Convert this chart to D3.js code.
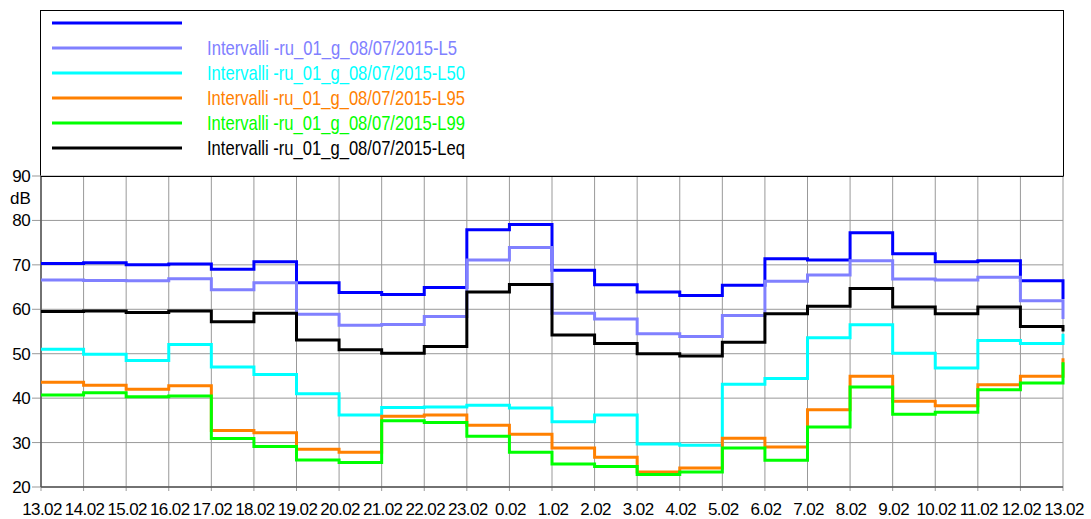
<!DOCTYPE html>
<html>
<head>
<meta charset="utf-8">
<script src="https://d3js.org/d3.v7.min.js"></script>
<style>
  body { margin: 0; background: #fff; }
  text { font-family: "Liberation Sans", Arial, sans-serif; }
</style>
</head>
<body>
<svg width="1091" height="519"></svg>
<script>
// tick labels along x (hour.minute of each interval start)
var tickLabels = ["13.02","14.02","15.02","16.02","17.02","18.02","19.02","20.02","21.02","22.02","23.02","0.02",
  "1.02","2.02","3.02","4.02","5.02","6.02","7.02","8.02","9.02","10.02","11.02","12.02","13.02"];

var seriesNames = ["", "Intervalli -ru_01_g_08/07/2015-L5", "Intervalli -ru_01_g_08/07/2015-L50",
  "Intervalli -ru_01_g_08/07/2015-L95", "Intervalli -ru_01_g_08/07/2015-L99", "Intervalli -ru_01_g_08/07/2015-Leq"];
var seriesColors = ["#0000ff", "#8080ff", "#00ffff", "#ff8000", "#00ff00", "#000000"];

// values per interval (last value = closing point at 13.02)
var lmax = [70.3,70.5,70.0,70.2,69.0,70.7,66.0,63.8,63.3,64.9,77.9,79.1,68.8,65.5,63.9,63.1,65.4,71.4,71.1,77.2,72.5,70.7,70.9,66.4,62.3];
var l5   = [66.6,66.5,66.4,66.9,64.4,66.0,58.9,56.4,56.6,58.4,71.1,73.9,59.1,57.8,54.5,53.9,58.6,66.3,67.7,70.9,66.8,66.6,67.2,61.9,57.8];
var l50  = [51.0,49.9,48.5,52.1,47.0,45.3,41.0,36.2,37.9,38.0,38.4,37.8,34.7,36.2,29.7,29.4,43.1,44.4,53.6,56.5,50.1,46.8,53.0,52.3,54.5];
var l95  = [43.6,42.9,42.0,42.8,32.7,32.2,28.5,27.8,35.9,36.2,33.9,31.9,28.8,26.7,23.4,24.3,31.0,29.0,37.4,44.9,39.3,38.3,43.0,44.9,49.0];
var l99  = [40.7,41.2,40.3,40.5,30.9,29.1,26.1,25.5,34.9,34.5,31.4,27.8,25.2,24.6,22.8,23.4,28.8,26.0,33.5,42.5,36.4,36.8,41.9,43.4,48.1];
var leq  = [59.5,59.6,59.3,59.6,57.2,59.1,53.1,50.9,50.1,51.6,63.9,65.6,54.2,52.3,50.0,49.5,52.6,59.0,60.7,64.7,60.5,59.0,60.5,56.1,55.0];
var yTicks = [20,30,40,50,60,70,80,90];

var allSeries = [lmax, l5, l50, l95, l99, leq];

var svg = d3.select("svg");
var plotLeft = 41, plotRight = 1063, plotTop = 176, plotBottom = 487;

var x = d3.scaleLinear().domain([0, tickLabels.length - 1]).range([plotLeft, plotRight]);
var y = d3.scaleLinear().domain([20, 90]).range([plotBottom, plotTop]);

// legend box
svg.append("rect")
  .attr("x", 40.5).attr("y", 10.5)
  .attr("width", plotRight - 40).attr("height", plotTop - 10)
  .attr("fill", "#fff").attr("stroke", "#000").attr("stroke-width", 1);

var lg = svg.append("g");
seriesNames.forEach(function(name, i){
  var ly = 23 + i * 25;
  lg.append("line")
    .attr("x1", 52).attr("x2", 182)
    .attr("y1", ly).attr("y2", ly)
    .attr("stroke", seriesColors[i]).attr("stroke-width", 3);
  if (name) {
    lg.append("text")
      .attr("x", 207).attr("y", ly + 7)
      .attr("font-size", 21)
      .attr("textLength", i == 5 ? 258 : (i == 1 ? 250 : 258))
      .attr("lengthAdjust", "spacingAndGlyphs")
      .attr("fill", seriesColors[i])
      .text(name);
  }
});

// grid
var grid = svg.append("g");
tickLabels.forEach(function(t, i){
  grid.append("line")
    .attr("x1", x(i)).attr("x2", x(i))
    .attr("y1", plotTop).attr("y2", plotBottom + 4)
    .attr("stroke", "#999").attr("stroke-width", 1);
});
yTicks.forEach(function(v){
  grid.append("line")
    .attr("x1", plotLeft - 9).attr("x2", plotRight)
    .attr("y1", y(v)).attr("y2", y(v))
    .attr("stroke", "#999").attr("stroke-width", 1);
});

// axes lines
svg.append("line").attr("x1", plotLeft).attr("x2", plotLeft).attr("y1", plotTop).attr("y2", plotBottom)
  .attr("stroke", "#555").attr("stroke-width", 1.5);
svg.append("line").attr("x1", plotLeft).attr("x2", plotRight).attr("y1", plotBottom).attr("y2", plotBottom)
  .attr("stroke", "#555").attr("stroke-width", 1.5);
svg.append("line").attr("x1", plotLeft).attr("x2", plotRight).attr("y1", plotTop + 0.5).attr("y2", plotTop + 0.5)
  .attr("stroke", "#000").attr("stroke-width", 1);

// tick labels
svg.append("g").selectAll("text")
  .data(tickLabels).enter().append("text")
  .attr("x", function(d, i){ return x(i) + 1; })
  .attr("y", 515)
  .attr("text-anchor", "middle")
  .attr("font-size", 17)
  .attr("letter-spacing", -0.6)
  .text(function(d){ return d; });

svg.append("g").selectAll("text")
  .data(yTicks).enter().append("text")
  .attr("x", 30)
  .attr("y", function(d){ return y(d) + 6; })
  .attr("text-anchor", "end")
  .attr("font-size", 17)
  .attr("letter-spacing", -0.6)
  .text(function(d){ return d; });

svg.append("text").attr("x", 10).attr("y", 204).attr("font-size", 17).text("dB");

// series
var line = d3.line()
  .x(function(d, i){ return x(i); })
  .y(function(d){ return y(d); })
  .curve(d3.curveStepAfter);

allSeries.forEach(function(s, i){
  svg.append("path")
    .attr("d", line(s))
    .attr("fill", "none")
    .attr("stroke", seriesColors[i])
    .attr("stroke-width", 3);
});
</script>
</body>
</html>
